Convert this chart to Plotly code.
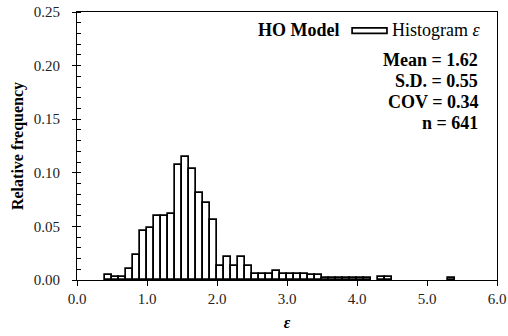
import plotly.graph_objects as go

# Bin left edges (bin width 0.1) and relative frequencies
bin_left = [0.4, 0.5, 0.6, 0.7, 0.8, 0.9, 1.0, 1.1, 1.2, 1.3, 1.4, 1.5, 1.6, 1.7, 1.8, 1.9,
            2.0, 2.1, 2.2, 2.3, 2.4, 2.5, 2.6, 2.7, 2.8, 2.9, 3.0, 3.1, 3.2, 3.3, 3.4,
            3.5, 3.6, 3.7, 3.8, 3.9, 4.0, 4.1, 4.3, 4.4, 5.3]
rel_freq = [0.0045, 0.003, 0.003, 0.0105, 0.0235, 0.046, 0.0488, 0.060, 0.060, 0.062,
            0.1075, 0.115, 0.1035, 0.081, 0.072, 0.056,
            0.0128, 0.0215, 0.0128, 0.021, 0.0128, 0.006, 0.006, 0.006, 0.008, 0.0058,
            0.0055, 0.0055, 0.006, 0.0045, 0.0045,
            0.0016, 0.0016, 0.0016, 0.0016, 0.0016, 0.0016, 0.0016, 0.003, 0.003, 0.0016]
bin_width = 0.1

stats_text = ["Mean = 1.62", "S.D. = 0.55", "COV = 0.34", "n = 641"]
x_ticks = [0, 1, 2, 3, 4, 5, 6]
y_ticks = [0.0, 0.05, 0.10, 0.15, 0.20, 0.25]

FONT = "Liberation Serif"

centers = [b + bin_width / 2 for b in bin_left]

fig = go.Figure()
fig.add_trace(go.Bar(
    x=centers, y=rel_freq, width=bin_width,
    marker=dict(color="white", line=dict(color="black", width=1.7)),
    showlegend=False, name="Histogram ε",
))

fig.update_layout(
    width=508, height=336,
    margin=dict(l=77, r=11, t=12, b=56),
    paper_bgcolor="white", plot_bgcolor="white",
    font=dict(family=FONT, size=15, color="black"),
    bargap=0,
    xaxis=dict(
        range=[0, 6], tickvals=x_ticks, tickformat=".1f",
        showline=True, linecolor="black", linewidth=1.2, mirror=True,
        ticks="outside", ticklen=5, tickcolor="black", tickwidth=1,
        showgrid=False, zeroline=False, automargin=False,
        tickfont=dict(family=FONT, size=15, color="#222"),
        title=dict(text="<b><i>ε</i></b>", font=dict(family=FONT, size=16), standoff=10),
    ),
    yaxis=dict(
        range=[0, 0.25], tickvals=y_ticks, tickformat=".2f",
        showline=True, linecolor="black", linewidth=1.2, mirror=True,
        ticks="outside", ticklen=4, tickcolor="black", tickwidth=1,
        ticklabelstandoff=9, automargin=False,
        minor=dict(dtick=0.01, ticks="inside", ticklen=4, tickcolor="black", tickwidth=1),
        showgrid=False, zeroline=False,
        tickfont=dict(family=FONT, size=15, color="#222"),
        title=dict(text="<b>Relative frequency</b>", font=dict(family=FONT, size=16), standoff=6),
    ),
)

# Legend-like label
fig.add_annotation(x=0.631, y=0.934, xref="paper", yref="paper", xanchor="right", yanchor="middle",
                   text="<b>HO Model</b>", showarrow=False, font=dict(family=FONT, size=18))
fig.add_shape(type="rect", xref="paper", yref="paper",
              x0=0.655, x1=0.738, y0=0.9205, y1=0.941,
              line=dict(color="black", width=1.7), fillcolor="white")
fig.add_annotation(x=0.745, y=0.934, xref="paper", yref="paper", xanchor="left", yanchor="middle",
                   text="Histogram <i>ε</i>", showarrow=False, font=dict(family=FONT, size=18))

for i, t in enumerate(stats_text):
    fig.add_annotation(x=0.96, y=0.821 - i * 0.0784, xref="paper", yref="paper",
                       xanchor="right", yanchor="middle",
                       text="<b>" + t + "</b>", showarrow=False,
                       font=dict(family=FONT, size=18))

fig.write_html("out.html")
